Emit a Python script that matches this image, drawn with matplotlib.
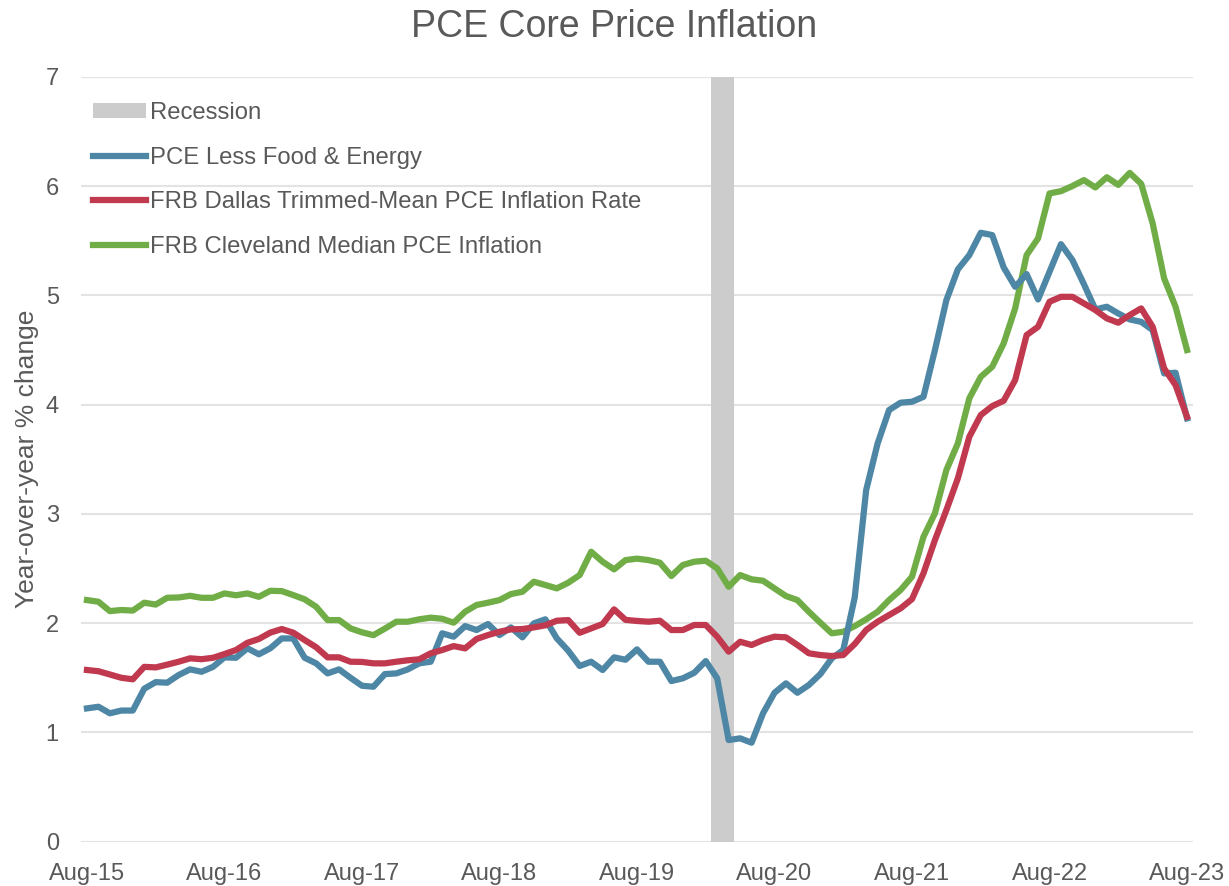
import numpy as np
import pandas as pd
import matplotlib
matplotlib.use("Agg")
import matplotlib.pyplot as plt
from matplotlib.patches import Patch

# monthly data, Aug-15 .. Aug-23
months = pd.date_range("2015-08-01", periods=97, freq="MS")

core_pce = [1.22, 1.235, 1.175, 1.20, 1.20, 1.40, 1.46, 1.455, 1.525, 1.577, 1.555, 1.60,
            1.687, 1.683, 1.77, 1.715, 1.77, 1.86, 1.86, 1.683, 1.632, 1.54, 1.577, 1.50,
            1.427, 1.418, 1.534, 1.54, 1.577, 1.632, 1.647, 1.907, 1.876, 1.973, 1.937, 1.992,
            1.891, 1.961, 1.87, 1.998, 2.035, 1.861, 1.748, 1.608, 1.647, 1.571, 1.687, 1.665,
            1.76, 1.647, 1.647, 1.47, 1.495, 1.546, 1.653, 1.495, 0.93, 0.946, 0.906, 1.175,
            1.363, 1.449, 1.363, 1.434, 1.534, 1.678, 1.754, 2.235, 3.218, 3.645, 3.95, 4.017,
            4.026, 4.071, 4.499, 4.956, 5.237, 5.368, 5.572, 5.551, 5.255, 5.078, 5.194, 4.962,
            5.215, 5.468, 5.322, 5.102, 4.871, 4.895, 4.834, 4.779, 4.757, 4.682, 4.285, 4.291,
            3.874]

dallas_trimmed = [1.571, 1.56, 1.53, 1.50, 1.486, 1.60, 1.595, 1.62, 1.647, 1.678, 1.67, 1.683,
                  1.717, 1.754, 1.82, 1.855, 1.913, 1.946, 1.913, 1.845, 1.78, 1.687, 1.687, 1.647,
                  1.645, 1.632, 1.632, 1.647, 1.66, 1.669, 1.724, 1.754, 1.79, 1.769, 1.855, 1.891,
                  1.921, 1.943, 1.946, 1.961, 1.98, 2.022, 2.028, 1.912, 1.952, 1.992, 2.126, 2.03,
                  2.02, 2.013, 2.022, 1.937, 1.937, 1.983, 1.983, 1.876, 1.739, 1.83, 1.80, 1.845,
                  1.876, 1.87, 1.80, 1.724, 1.708, 1.699, 1.708, 1.809, 1.937, 2.013, 2.074, 2.135,
                  2.22, 2.456, 2.76, 3.035, 3.325, 3.705, 3.904, 3.986, 4.035, 4.224, 4.636, 4.712,
                  4.941, 4.986, 4.986, 4.926, 4.865, 4.789, 4.749, 4.819, 4.88, 4.712, 4.331, 4.178,
                  3.888]

cleveland_median = [2.211, 2.196, 2.11, 2.12, 2.115, 2.187, 2.17, 2.232, 2.235, 2.25, 2.232, 2.232,
                    2.272, 2.255, 2.272, 2.241, 2.296, 2.293, 2.257, 2.218, 2.15, 2.028, 2.028, 1.952,
                    1.916, 1.89, 1.95, 2.013, 2.013, 2.035, 2.05, 2.04, 2.004, 2.104, 2.166, 2.187,
                    2.211, 2.266, 2.287, 2.379, 2.349, 2.318, 2.37, 2.44, 2.653, 2.562, 2.492, 2.577,
                    2.59, 2.577, 2.553, 2.431, 2.532, 2.562, 2.571, 2.501, 2.333, 2.44, 2.401, 2.388,
                    2.318, 2.248, 2.211, 2.104, 2.004, 1.907, 1.921, 1.973, 2.035, 2.104, 2.211, 2.303,
                    2.425, 2.79, 3.005, 3.401, 3.645, 4.057, 4.254, 4.346, 4.56, 4.88, 5.368, 5.521,
                    5.932, 5.953, 6.0, 6.054, 5.987, 6.08, 6.01, 6.12, 6.02, 5.658, 5.155, 4.895,
                    4.499]

recession_months = ["2020-03", "2020-04"]

c_blue = "#4E87A5"
c_red = "#C0394F"
c_green = "#70AD47"
c_grey = "#CCCCCC"
txt = "#595959"
lw = 4.5

plt.rcParams["font.family"] = ["Liberation Sans", "DejaVu Sans"]

fig = plt.figure(figsize=(12.29, 8.86), dpi=100)
ax = fig.add_axes([0.0659, 0.05, 0.9048, 0.8634])

x = np.arange(len(months))
labels = months.strftime("%b-%y")
month_keys = list(months.strftime("%Y-%m"))
rec_x = [month_keys.index(m) for m in recession_months]

ax.bar(rec_x, [7] * len(rec_x), width=1.0, color=c_grey, zorder=1)
ax.plot(x, core_pce, color=c_blue, lw=lw, zorder=3, solid_joinstyle="round")
ax.plot(x, dallas_trimmed, color=c_red, lw=lw, zorder=4, solid_joinstyle="round")
ax.plot(x, cleveland_median, color=c_green, lw=lw, zorder=2, solid_joinstyle="round")

ax.set_xlim(-0.52, 96.52)
ax.set_ylim(0, 7)
ax.set_yticks(range(0, 8))
ax.set_xticks(x[::12])
ax.set_xticklabels(labels[::12])
ax.grid(axis="y", color="#E3E3E3", lw=1.5, zorder=0)
ax.set_axisbelow(True)
for s in ax.spines.values():
    s.set_visible(False)
ax.tick_params(axis="both", length=0, labelsize=17, colors=txt)
ax.tick_params(axis="y", pad=16)
ax.tick_params(axis="x", pad=15)

ax.set_ylabel("Year-over-year % change", fontsize=19, color=txt, labelpad=5)
fig.suptitle("PCE Core Price Inflation", fontsize=27, color=txt, y=0.99)

handles = [
    Patch(facecolor=c_grey, edgecolor="none"),
    plt.Line2D([], [], color=c_blue, lw=lw),
    plt.Line2D([], [], color=c_red, lw=lw),
    plt.Line2D([], [], color=c_green, lw=lw),
]
names = ["Recession", "PCE Less Food & Energy",
         "FRB Dallas Trimmed-Mean PCE Inflation Rate",
         "FRB Cleveland Median PCE Inflation"]
leg = ax.legend(handles, names, loc="upper left", bbox_to_anchor=(0.011, 0.967),
                frameon=False, fontsize=17.2, handlelength=2.2, handleheight=0.6,
                handletextpad=0.18, labelspacing=0.95, borderpad=0, borderaxespad=0)
for t in leg.get_texts():
    t.set_color(txt)

fig.savefig("out.png", dpi=100)
